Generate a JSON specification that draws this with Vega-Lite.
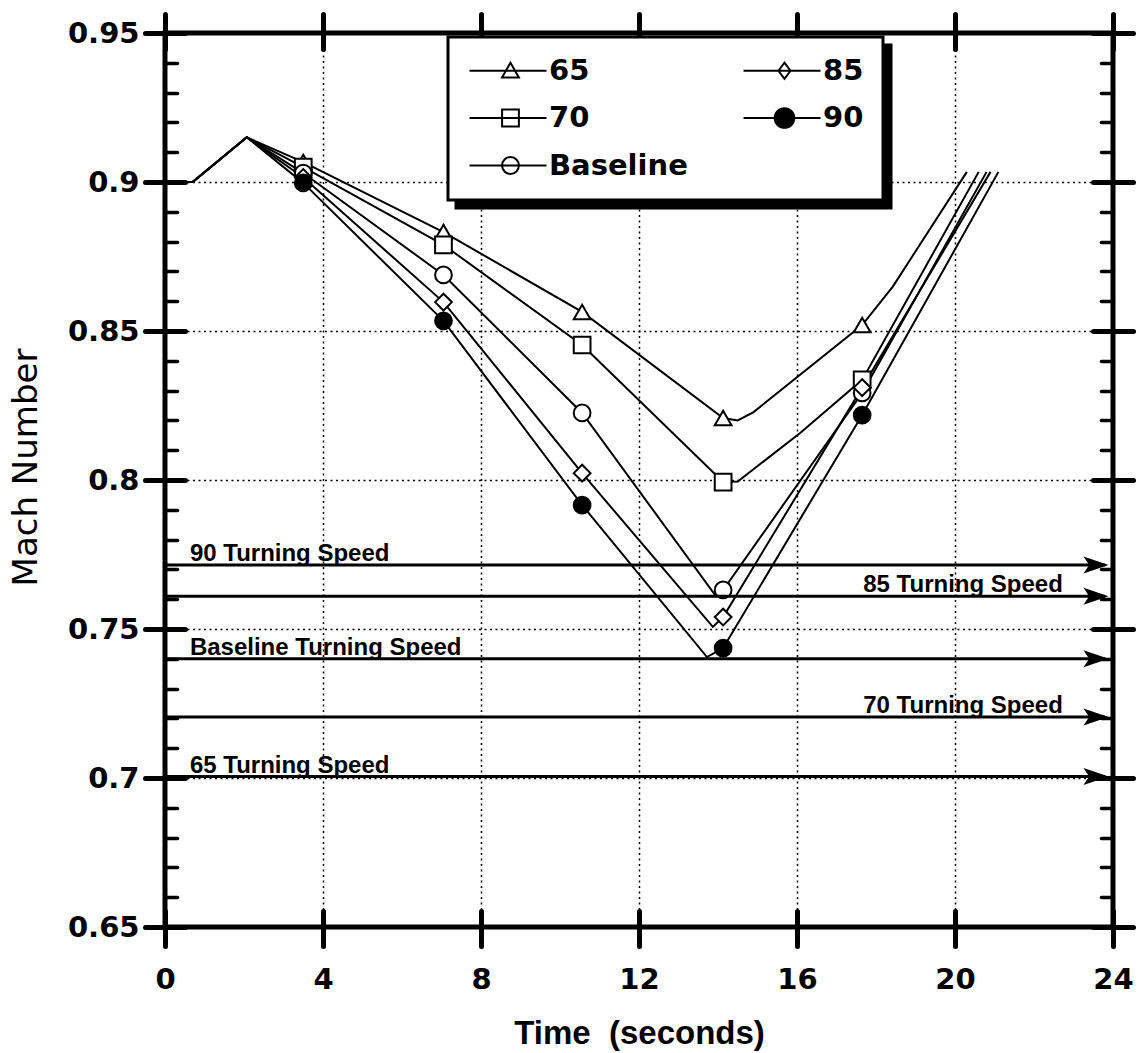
{
  "$schema": "https://vega.github.io/schema/vega-lite/v6.json",
  "width": 948,
  "height": 894,
  "autosize": {"type": "none"},
  "padding": {"left": 165, "top": 33, "right": 30, "bottom": 126},
  "background": "white",
  "config": {
    "view": {"stroke": "black", "strokeWidth": 5},
    "axis": {"domain": false, "tickColor": "black", "tickWidth": 5, "tickCap": "round", "grid": false, "labels": false, "tickOpacity": 1},
    "legend": {"strokeWidth": 3}
  },
  "datasets": {
    "lines": [
      {"s": "65", "t": 0, "m": 0.9}, {"s": "65", "t": 0.7, "m": 0.9}, {"s": "65", "t": 2.07, "m": 0.915}, {"s": "65", "t": 3.5, "m": 0.9067}, {"s": "65", "t": 7.05, "m": 0.8832}, {"s": "65", "t": 10.56, "m": 0.8564}, {"s": "65", "t": 14.13, "m": 0.8208}, {"s": "65", "t": 14.5, "m": 0.82}, {"s": "65", "t": 14.9, "m": 0.8228}, {"s": "65", "t": 17.65, "m": 0.852}, {"s": "65", "t": 18.43, "m": 0.865}, {"s": "65", "t": 20.3, "m": 0.9034},
      {"s": "70", "t": 0, "m": 0.9}, {"s": "70", "t": 0.7, "m": 0.9}, {"s": "70", "t": 2.07, "m": 0.915}, {"s": "70", "t": 3.5, "m": 0.905}, {"s": "70", "t": 7.05, "m": 0.8789}, {"s": "70", "t": 10.56, "m": 0.8453}, {"s": "70", "t": 14.13, "m": 0.7993}, {"s": "70", "t": 14.5, "m": 0.7995}, {"s": "70", "t": 16.08, "m": 0.8158}, {"s": "70", "t": 17.65, "m": 0.8336}, {"s": "70", "t": 20.6, "m": 0.9034},
      {"s": "Baseline", "t": 0, "m": 0.9}, {"s": "Baseline", "t": 0.7, "m": 0.9}, {"s": "Baseline", "t": 2.07, "m": 0.915}, {"s": "Baseline", "t": 3.5, "m": 0.903}, {"s": "Baseline", "t": 7.05, "m": 0.8688}, {"s": "Baseline", "t": 10.56, "m": 0.8225}, {"s": "Baseline", "t": 13.95, "m": 0.761}, {"s": "Baseline", "t": 14.13, "m": 0.7631}, {"s": "Baseline", "t": 17.65, "m": 0.8292}, {"s": "Baseline", "t": 20.8, "m": 0.9034},
      {"s": "85", "t": 0, "m": 0.9}, {"s": "85", "t": 0.7, "m": 0.9}, {"s": "85", "t": 2.07, "m": 0.915}, {"s": "85", "t": 3.5, "m": 0.9015}, {"s": "85", "t": 7.05, "m": 0.8597}, {"s": "85", "t": 10.56, "m": 0.8023}, {"s": "85", "t": 13.87, "m": 0.7507}, {"s": "85", "t": 14.13, "m": 0.754}, {"s": "85", "t": 17.65, "m": 0.831}, {"s": "85", "t": 20.9, "m": 0.9034},
      {"s": "90", "t": 0, "m": 0.9}, {"s": "90", "t": 0.7, "m": 0.9}, {"s": "90", "t": 2.07, "m": 0.915}, {"s": "90", "t": 3.5, "m": 0.8997}, {"s": "90", "t": 7.05, "m": 0.8534}, {"s": "90", "t": 10.56, "m": 0.7916}, {"s": "90", "t": 13.72, "m": 0.7406}, {"s": "90", "t": 14.13, "m": 0.7436}, {"s": "90", "t": 17.65, "m": 0.8218}, {"s": "90", "t": 21.1, "m": 0.9034}
    ],
    "markers": [
      {"s": "65", "t": 3.5, "m": 0.9067}, {"s": "65", "t": 7.05, "m": 0.8832}, {"s": "65", "t": 10.56, "m": 0.8564}, {"s": "65", "t": 14.13, "m": 0.8208}, {"s": "65", "t": 17.65, "m": 0.852},
      {"s": "70", "t": 3.5, "m": 0.905}, {"s": "70", "t": 7.05, "m": 0.8789}, {"s": "70", "t": 10.56, "m": 0.8453}, {"s": "70", "t": 14.13, "m": 0.7993}, {"s": "70", "t": 17.65, "m": 0.8336},
      {"s": "Baseline", "t": 3.5, "m": 0.903}, {"s": "Baseline", "t": 7.05, "m": 0.8688}, {"s": "Baseline", "t": 10.56, "m": 0.8225}, {"s": "Baseline", "t": 14.13, "m": 0.7631}, {"s": "Baseline", "t": 17.65, "m": 0.8292},
      {"s": "85", "t": 3.5, "m": 0.9015}, {"s": "85", "t": 7.05, "m": 0.8597}, {"s": "85", "t": 10.56, "m": 0.8023}, {"s": "85", "t": 14.13, "m": 0.754}, {"s": "85", "t": 17.65, "m": 0.831},
      {"s": "90", "t": 3.5, "m": 0.8997}, {"s": "90", "t": 7.05, "m": 0.8534}, {"s": "90", "t": 10.56, "m": 0.7916}, {"s": "90", "t": 14.13, "m": 0.7436}, {"s": "90", "t": 17.65, "m": 0.8218}
    ],
    "turning": [
      {"case": "90", "speed": 0.7715, "label": "90 Turning Speed"},
      {"case": "85", "speed": 0.761, "label": "85 Turning Speed"},
      {"case": "Baseline", "speed": 0.74, "label": "Baseline Turning Speed"},
      {"case": "70", "speed": 0.7205, "label": "70 Turning Speed"},
      {"case": "65", "speed": 0.7005, "label": "65 Turning Speed"}
    ]
  },
  "layer": [
    {
      "data": {"name": "lines"},
      "mark": {"type": "line", "color": "black", "strokeWidth": 2},
      "encoding": {
        "x": {"field": "t", "type": "quantitative", "scale": {"domain": [0, 24], "nice": false, "zero": false},
          "axis": {"orient": "bottom", "values": [0, 4, 8, 12, 16, 20, 24], "format": "~g", "tickSize": 19, "labels": true, "labelFont": "DejaVu Sans", "labelFontWeight": "bold", "labelFontSize": 29, "labelColor": "black", "labelPadding": 19, "labelFlush": false, "labelOverlap": false,
            "grid": true, "gridColor": "black", "gridDash": [2, 3.5], "gridWidth": 1.5, "gridOpacity": 1,
            "title": "Time\u00a0\u00a0(seconds)", "titleFont": "Liberation Sans", "titleFontSize": 33, "titleFontWeight": "bold", "titleColor": "black", "titleY": 116, "titleBaseline": "alphabetic"}},
        "y": {"field": "m", "type": "quantitative", "scale": {"domain": [0.65, 0.95], "nice": false, "zero": false},
          "axis": {"orient": "left", "values": [0.65, 0.7, 0.75, 0.8, 0.85, 0.9, 0.95], "format": "~g", "tickSize": 20, "labels": true, "labelFont": "DejaVu Sans", "labelFontWeight": "bold", "labelFontSize": 29, "labelColor": "black", "labelPadding": 6, "labelFlush": false, "labelOverlap": false,
            "grid": true, "gridColor": "black", "gridDash": [2, 3.5], "gridWidth": 1.5, "gridOpacity": 1,
            "title": "Mach Number", "titleFont": "DejaVu Sans", "titleFontSize": 34, "titleFontWeight": "normal", "titleColor": "black", "titleAngle": -90, "titleX": -139, "titleY": 434, "titleAlign": "center", "titleBaseline": "middle"}},
        "detail": {"field": "s", "type": "nominal"}
      }
    },
    {
      "data": {"name": "markers"},
      "mark": {"type": "point", "filled": true, "stroke": "black", "strokeWidth": 2, "size": 280, "opacity": 1},
      "encoding": {
        "x": {"field": "t", "type": "quantitative", "axis": {"orient": "top", "values": [0, 4, 8, 12, 16, 20, 24], "tickSize": 19, "labels": false, "grid": false, "title": null}},
        "y": {"field": "m", "type": "quantitative", "axis": {"orient": "right", "values": [0.65, 0.7, 0.75, 0.8, 0.85, 0.9, 0.95], "tickSize": 20, "labels": false, "grid": false, "title": null}},
        "shape": {"field": "s", "type": "nominal", "legend": null,
          "scale": {"domain": ["65", "85", "70", "90", "Baseline"], "range": ["triangle-up", "diamond", "square", "circle", "circle"]}},
        "fill": {"field": "s", "type": "nominal", "legend": null,
          "scale": {"domain": ["65", "85", "70", "90", "Baseline"], "range": ["white", "white", "white", "black", "white"]}}
      }
    },
    {
      "data": {"name": "markers"},
      "transform": [{"filter": {"field": "t", "lt": 0}}],
      "mark": {"type": "point", "filled": true, "strokeWidth": 2, "size": 196, "opacity": 1},
      "encoding": {
        "shape": {"field": "s", "type": "nominal",
          "scale": {"domain": ["65", "85", "70", "90", "Baseline"], "range": ["M-1.71,0H9.29M4.14,-1.15L5.34,0.95L2.94,0.95Z", "M-1.71,0H9.29M4.14,-1.15L5,0L4.14,1.15L3.28,0Z", "M-1.71,0H9.29M2.94,-1.2H5.34V1.2H2.94Z", "M-1.71,0H9.29M2.74,0A1.4,1.4 0 1,0 5.54,0A1.4,1.4 0 1,0 2.74,0Z", "M-1.71,0H9.29M2.94,0A1.2,1.2 0 1,0 5.34,0A1.2,1.2 0 1,0 2.94,0Z"]},
          "legend": {"orient": "none", "legendX": 291, "legendY": 12, "direction": "horizontal", "title": null, "columns": 2, "columnPadding": 149, "rowPadding": 17.5, "padding": 19,
            "strokeColor": "black", "fillColor": "black", "symbolSize": 196, "symbolStrokeWidth": 2,
            "labelFont": "DejaVu Sans", "labelFontWeight": "bold", "labelFontSize": 29, "labelColor": "black", "labelOffset": 94, "labelLimit": 300,
            "labelExpr": "datum.label == 'Baseline' ? '\u2007\u2007\u2007\u2007\u2007\u2007\u2007' : '\u2007\u2007'"}},
        "fill": {"field": "s", "type": "nominal",
          "scale": {"domain": ["65", "85", "70", "90", "Baseline"], "range": ["black", "black", "black", "black", "black"]},
          "legend": {"orient": "none", "legendX": 291, "legendY": 12, "direction": "horizontal", "title": null, "columns": 2, "columnPadding": 149, "rowPadding": 17.5, "padding": 19,
            "strokeColor": "black", "fillColor": "black", "symbolSize": 196, "symbolStrokeWidth": 2,
            "labelFont": "DejaVu Sans", "labelFontWeight": "bold", "labelFontSize": 29, "labelColor": "black", "labelOffset": 94, "labelLimit": 300,
            "labelExpr": "datum.label == 'Baseline' ? '\u2007\u2007\u2007\u2007\u2007\u2007\u2007' : '\u2007\u2007'"}},
        "stroke": {"field": "s", "type": "nominal",
          "scale": {"domain": ["65", "85", "70", "90", "Baseline"], "range": ["black", "black", "black", "black", "black"]},
          "legend": {"orient": "none", "legendX": 291, "legendY": 12, "direction": "horizontal", "title": null, "columns": 2, "columnPadding": 149, "rowPadding": 17.5, "padding": 19,
            "strokeColor": "black", "fillColor": "black", "symbolSize": 196, "symbolStrokeWidth": 2,
            "labelFont": "DejaVu Sans", "labelFontWeight": "bold", "labelFontSize": 29, "labelColor": "black", "labelOffset": 94, "labelLimit": 300,
            "labelExpr": "datum.label == 'Baseline' ? '\u2007\u2007\u2007\u2007\u2007\u2007\u2007' : '\u2007\u2007'"}}
      }
    },
    {
      "data": {"name": "markers"},
      "transform": [{"filter": {"field": "t", "lt": 0}}],
      "mark": {"type": "point", "filled": true, "strokeWidth": 2, "size": 196, "opacity": 1},
      "encoding": {
        "shape": {"field": "s", "type": "nominal",
          "scale": {"domain": ["65", "85", "70", "90", "Baseline"], "range": ["M-1.71,0H9.29M4.14,-1.15L5.34,0.95L2.94,0.95Z", "M-1.71,0H9.29M4.14,-1.15L5,0L4.14,1.15L3.28,0Z", "M-1.71,0H9.29M2.94,-1.2H5.34V1.2H2.94Z", "M-1.71,0H9.29M2.74,0A1.4,1.4 0 1,0 5.54,0A1.4,1.4 0 1,0 2.74,0Z", "M-1.71,0H9.29M2.94,0A1.2,1.2 0 1,0 5.34,0A1.2,1.2 0 1,0 2.94,0Z"]},
          "legend": {"orient": "none", "legendX": 283, "legendY": 4, "direction": "horizontal", "title": null, "columns": 2, "columnPadding": 51, "rowPadding": 17.5, "padding": 19,
            "strokeColor": "black", "fillColor": "white", "symbolSize": 196, "symbolStrokeWidth": 2,
            "labelFont": "DejaVu Sans", "labelFontWeight": "bold", "labelFontSize": 29, "labelColor": "black", "labelOffset": 53, "labelLimit": 300}},
        "fill": {"field": "s", "type": "nominal",
          "scale": {"domain": ["65", "85", "70", "90", "Baseline"], "range": ["white", "white", "white", "black", "white"]},
          "legend": {"orient": "none", "legendX": 283, "legendY": 4, "direction": "horizontal", "title": null, "columns": 2, "columnPadding": 51, "rowPadding": 17.5, "padding": 19,
            "strokeColor": "black", "fillColor": "white", "symbolSize": 196, "symbolStrokeWidth": 2,
            "labelFont": "DejaVu Sans", "labelFontWeight": "bold", "labelFontSize": 29, "labelColor": "black", "labelOffset": 53, "labelLimit": 300}},
        "stroke": {"field": "s", "type": "nominal",
          "scale": {"domain": ["65", "85", "70", "90", "Baseline"], "range": ["black", "black", "black", "black", "black"]},
          "legend": {"orient": "none", "legendX": 283, "legendY": 4, "direction": "horizontal", "title": null, "columns": 2, "columnPadding": 51, "rowPadding": 17.5, "padding": 19,
            "strokeColor": "black", "fillColor": "white", "symbolSize": 196, "symbolStrokeWidth": 2,
            "labelFont": "DejaVu Sans", "labelFontWeight": "bold", "labelFontSize": 29, "labelColor": "black", "labelOffset": 53, "labelLimit": 300}}
      }
    },
    {
      "data": {"name": "turning"},
      "mark": {"type": "rule", "color": "black", "strokeWidth": 3},
      "encoding": {
        "x": {"datum": 0, "type": "quantitative", "axis": {"orient": "bottom", "values": [0, 4, 8, 12, 16, 20, 24], "tickSize": -16, "labels": false, "grid": false, "title": null}},
        "x2": {"datum": 23.8},
        "y": {"field": "speed", "type": "quantitative", "axis": {"orient": "left", "values": [0.65, 0.7, 0.75, 0.8, 0.85, 0.9, 0.95], "tickSize": -20, "labels": false, "grid": false, "title": null}}
      }
    },
    {
      "data": {"name": "turning"},
      "mark": {"type": "point", "shape": "M-1,-0.68L1,0L-1,0.68L-0.55,0Z", "filled": true, "color": "black", "size": 625, "opacity": 1},
      "encoding": {
        "x": {"datum": 23.57, "type": "quantitative", "axis": {"orient": "top", "values": [0, 4, 8, 12, 16, 20, 24], "tickSize": -16, "labels": false, "grid": false, "title": null}},
        "y": {"field": "speed", "type": "quantitative", "axis": {"orient": "right", "values": [0.65, 0.7, 0.75, 0.8, 0.85, 0.9, 0.95], "tickSize": -20, "labels": false, "grid": false, "title": null}}
      }
    },
    {
      "data": {"name": "turning"},
      "transform": [{"filter": {"field": "case", "oneOf": ["90", "Baseline", "65"]}}],
      "mark": {"type": "text", "align": "left", "baseline": "alphabetic", "dy": -4, "font": "Liberation Sans", "fontWeight": "bold", "fontSize": 24, "color": "black"},
      "encoding": {
        "x": {"datum": 0.63, "type": "quantitative", "axis": null},
        "y": {"field": "speed", "type": "quantitative", "axis": {"orient": "left", "values": [0.66, 0.67, 0.68, 0.69, 0.71, 0.72, 0.73, 0.74, 0.76, 0.77, 0.78, 0.79, 0.81, 0.82, 0.83, 0.84, 0.86, 0.87, 0.88, 0.89, 0.91, 0.92, 0.93, 0.94], "tickSize": -12, "tickWidth": 3.5, "labels": false, "grid": false, "title": null}},
        "text": {"field": "label"}
      }
    },
    {
      "data": {"name": "turning"},
      "transform": [{"filter": {"field": "case", "oneOf": ["85", "70"]}}],
      "mark": {"type": "text", "align": "right", "baseline": "alphabetic", "dy": -4, "font": "Liberation Sans", "fontWeight": "bold", "fontSize": 24, "color": "black"},
      "encoding": {
        "x": {"datum": 22.73, "type": "quantitative", "axis": null},
        "y": {"field": "speed", "type": "quantitative", "axis": {"orient": "right", "values": [0.66, 0.67, 0.68, 0.69, 0.71, 0.72, 0.73, 0.74, 0.76, 0.77, 0.78, 0.79, 0.81, 0.82, 0.83, 0.84, 0.86, 0.87, 0.88, 0.89, 0.91, 0.92, 0.93, 0.94], "tickSize": -12, "tickWidth": 3.5, "labels": false, "grid": false, "title": null}},
        "text": {"field": "label"}
      }
    }
  ],
  "resolve": {"axis": {"x": "independent", "y": "independent"}, "scale": {"shape": "independent", "fill": "independent", "stroke": "independent"}}
}
